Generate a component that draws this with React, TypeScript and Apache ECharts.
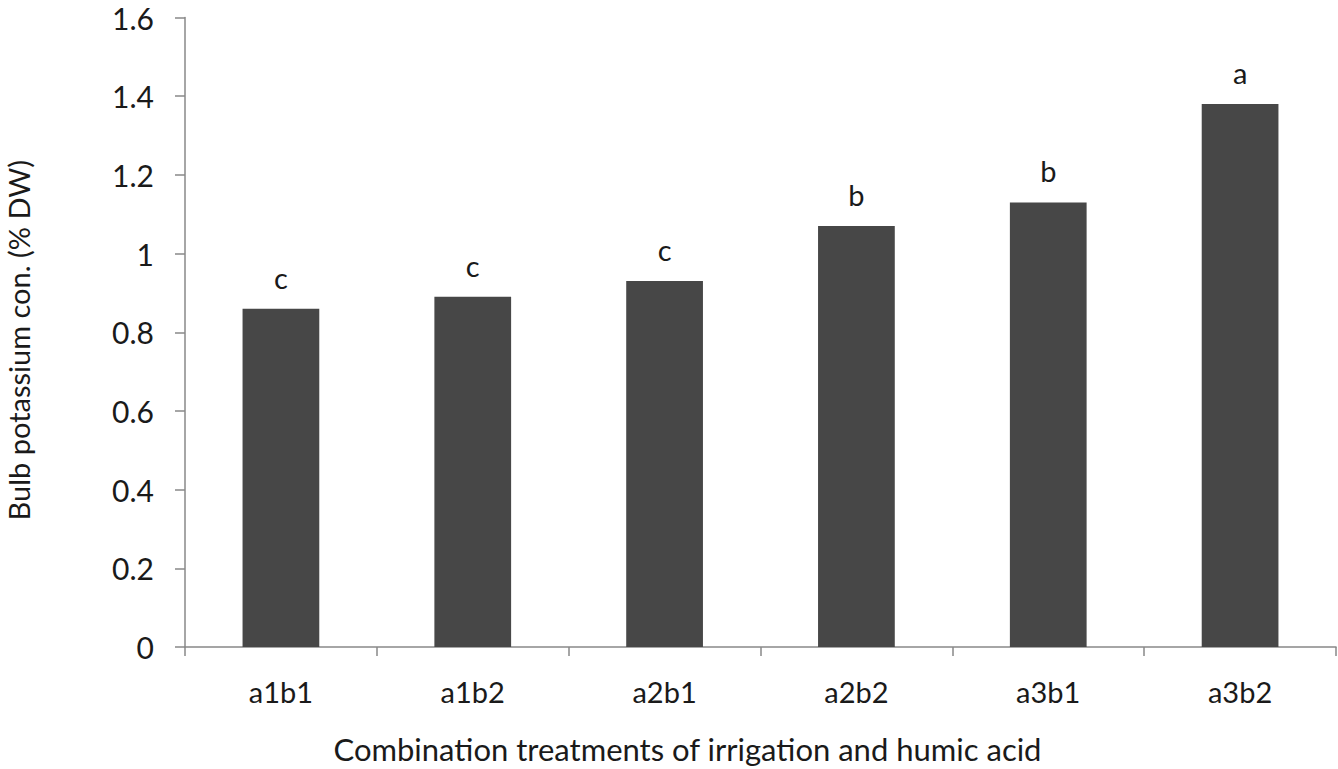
import React, { useEffect, useRef } from "react";
import * as echarts from "echarts";

const categories = ["a1b1", "a1b2", "a2b1", "a2b2", "a3b1", "a3b2"];
const values = [0.86, 0.89, 0.93, 1.07, 1.13, 1.38];
const letters = ["c", "c", "c", "b", "b", "a"];
const yTicks = [0, 0.2, 0.4, 0.6, 0.8, 1, 1.2, 1.4, 1.6];

const FONT = "Lato, 'Open Sans', sans-serif";

export default function App() {
  const ref = useRef<HTMLDivElement>(null);
  useEffect(() => {
    if (!ref.current) return;
    const chart = echarts.init(ref.current, undefined, { renderer: "svg" });
    chart.setOption({
      animation: false,
      grid: { left: 185, right: 2, top: 17.5, bottom: 122, outerBoundsMode: "none", containLabel: false },
      xAxis: {
        type: "category",
        data: categories,
        name: "Combination treatments of irrigation and humic acid",
        nameLocation: "middle",
        nameGap: 86,
        nameTextStyle: { fontFamily: FONT, fontSize: 31, color: "#1a1a1a", padding: [0, 146, 0, 0] },
        axisLine: { lineStyle: { color: "#888", width: 1.5 } },
        axisTick: { show: true, length: 9, lineStyle: { color: "#888", width: 1.5 } },
        axisLabel: { fontFamily: FONT, fontSize: 29, color: "#1a1a1a", margin: 30 },
      },
      yAxis: {
        type: "value",
        min: 0,
        max: 1.6,
        interval: 0.2,
        name: "Bulb potassium con. (% DW)",
        nameLocation: "middle",
        nameGap: 152,
        nameTextStyle: { fontFamily: FONT, fontSize: 29, color: "#1a1a1a", padding: [0, 16, 0, 0] },
        axisLine: { show: true, lineStyle: { color: "#888", width: 1.5 } },
        axisTick: { show: true, length: 10, lineStyle: { color: "#888", width: 1.5 } },
        splitLine: { show: false },
        axisLabel: {
          fontFamily: FONT,
          fontSize: 30,
          color: "#1a1a1a",
          margin: 31,
          formatter: (v: number) => {
            const t = yTicks.find((x) => Math.abs(x - v) < 1e-6);
            return t === undefined ? "" : String(Number(t.toFixed(1)));
          },
        },
      },
      series: [
        {
          type: "bar",
          data: values,
          barWidth: "40%",
          itemStyle: { color: "#474747" },
          label: {
            show: true,
            position: "top",
            distance: 17,
            fontFamily: FONT,
            fontSize: 29,
            color: "#1a1a1a",
            formatter: (p: any) => letters[p.dataIndex],
          },
        },
      ],
    });
    return () => chart.dispose();
  }, []);
  return <div ref={ref} style={{ width: 1338, height: 769, position: "absolute", left: 0, top: 0 }} />;
}
